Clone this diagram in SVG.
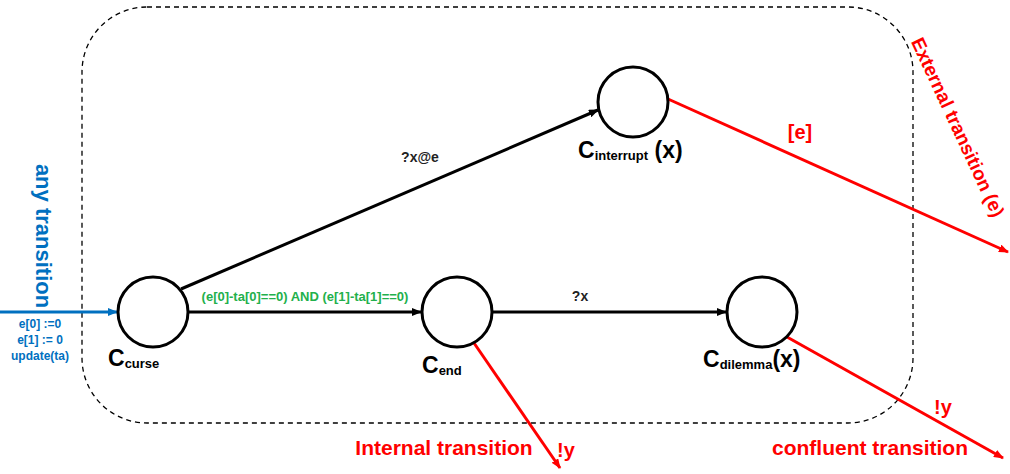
<svg xmlns="http://www.w3.org/2000/svg" width="1010" height="474" viewBox="0 0 1010 474">
<defs>
<style>
text{font-family:"Liberation Sans",Arial,sans-serif;font-weight:bold}
.node{fill:#fff;stroke:#000;stroke-width:3}
.blk{stroke:#000;stroke-width:3;fill:none}
.red{stroke:#f00;stroke-width:3;fill:none}
.blu{stroke:#0070c0;stroke-width:3;fill:none}
.lbl{font-size:23px;fill:#000}
.sub{font-size:13px}
.rt{fill:#f00}
.bt{fill:#0070c0}
</style>
<marker id="ak" markerWidth="10" markerHeight="8" refX="9" refY="4" orient="auto" markerUnits="userSpaceOnUse"><path d="M0,0 L10,4 L0,8 z" fill="#000"/></marker>
<marker id="ar" markerWidth="10" markerHeight="8" refX="9" refY="4" orient="auto" markerUnits="userSpaceOnUse"><path d="M0,0 L10,4 L0,8 z" fill="#f00"/></marker>
<marker id="ab" markerWidth="10" markerHeight="8" refX="9" refY="4" orient="auto" markerUnits="userSpaceOnUse"><path d="M0,0 L10,4 L0,8 z" fill="#0070c0"/></marker>
</defs>
<rect x="82" y="7" width="831" height="416" rx="65" ry="65" fill="none" stroke="#000" stroke-width="1.3" stroke-dasharray="5,4"/>
<g id="connectors">
<line class="blu" x1="0" y1="312" x2="117" y2="312" marker-end="url(#ab)"/>
<line class="blk" x1="188" y1="312" x2="421" y2="312" marker-end="url(#ak)"/>
<line class="blk" x1="492" y1="312" x2="726" y2="312" marker-end="url(#ak)"/>
<line class="blk" x1="181" y1="289" x2="598" y2="110" marker-end="url(#ak)"/>
<line class="red" x1="668" y1="99" x2="1008" y2="252" marker-end="url(#ar)"/>
<line class="red" x1="474" y1="343" x2="560" y2="468" marker-end="url(#ar)"/>
<line class="red" x1="787" y1="337" x2="1003" y2="458" marker-end="url(#ar)"/>
<text x="420" y="162" font-size="14" text-anchor="middle" fill="#222">?x@e</text>
<text x="580" y="301" font-size="14" text-anchor="middle" fill="#222">?x</text>
<text x="305" y="301" font-size="13" text-anchor="middle" fill="#22b04c">(e[0]-ta[0]==0) AND (e[1]-ta[1]==0)</text>
<text x="800" y="139" font-size="20" text-anchor="middle" class="rt">[e]</text>
<text x="943" y="414" font-size="20" text-anchor="middle" class="rt">!y</text>
<text x="566" y="457" font-size="20" text-anchor="middle" class="rt">!y</text>
<text x="444" y="455" font-size="21" text-anchor="middle" class="rt">Internal transition</text>
<text x="870" y="455" font-size="21" text-anchor="middle" class="rt">confluent transition</text>
<text transform="translate(952,130) rotate(65)" font-size="19" text-anchor="middle" class="rt">External transition (e)</text>
<text transform="translate(36,236) rotate(90)" font-size="22" text-anchor="middle" class="bt">any transition</text>
<text x="40" y="328" font-size="12" text-anchor="middle" class="bt">e[0] :=0</text>
<text x="40" y="344" font-size="12" text-anchor="middle" class="bt">e[1] := 0</text>
<text x="40" y="360" font-size="12" text-anchor="middle" class="bt">update(ta)</text>
</g>
<g id="curse">
<circle class="node" cx="153" cy="312" r="35"/>
<text class="lbl" x="108" y="366">C<tspan class="sub" dy="2">curse</tspan></text>
</g>
<g id="end">
<circle class="node" cx="457" cy="312" r="35"/>
<text class="lbl" x="422" y="373">C<tspan class="sub" dy="2">end</tspan></text>
</g>
<g id="dilemma">
<circle class="node" cx="762" cy="312" r="35"/>
<text class="lbl" x="703" y="367">C<tspan class="sub" dy="2">dilemma</tspan><tspan dy="-2">(x)</tspan></text>
</g>
<g id="interrupt">
<circle class="node" cx="633" cy="102" r="35"/>
<text class="lbl" x="578" y="158">C<tspan class="sub" dy="2">interrupt</tspan><tspan dy="-2"> (x)</tspan></text>
</g>
</svg>
